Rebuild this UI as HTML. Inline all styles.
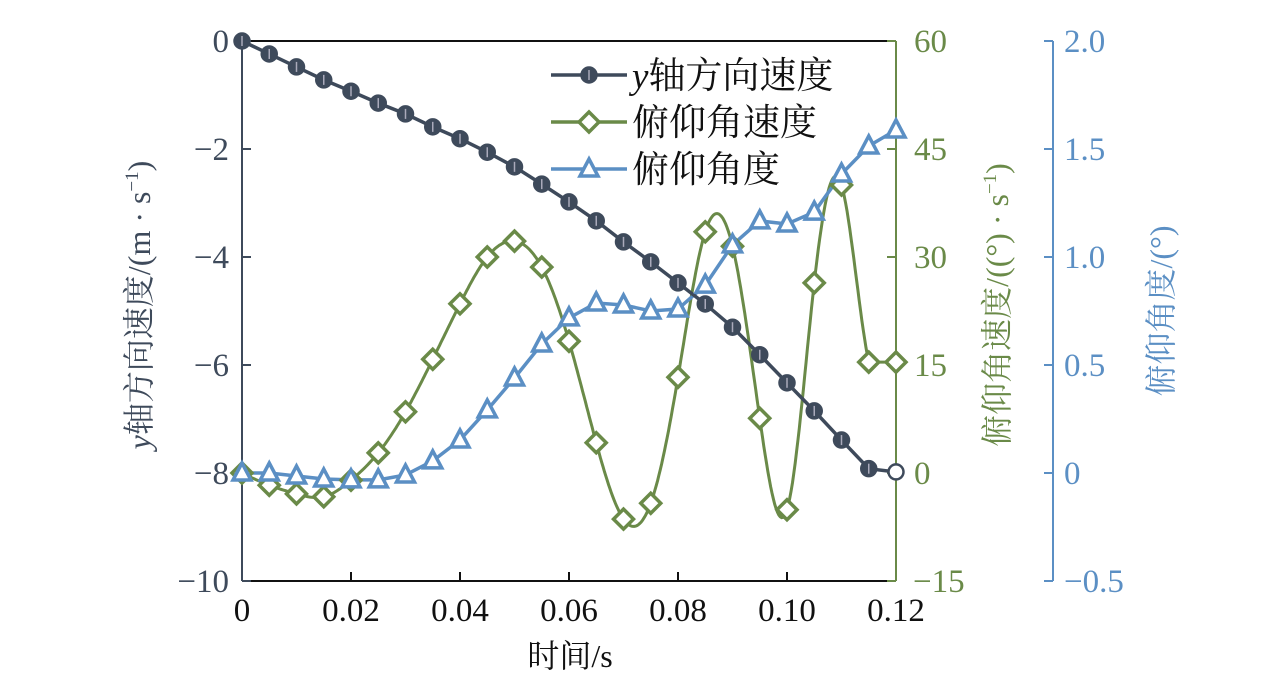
<!DOCTYPE html>
<html><head><meta charset="utf-8"><style>
body{margin:0;background:#fff;}
svg{display:block;font-family:"Liberation Serif","Noto Serif CJK SC","Noto Sans CJK SC",serif;}
</style></head><body>
<svg id="chart" width="1276" height="685" xmlns="http://www.w3.org/2000/svg"></svg>
<script>
const times=[0,0.005,0.01,0.015,0.02,0.025,0.03,0.035,0.04,0.045,0.05,0.055,0.06,0.065,0.07,0.075,0.08,0.085,0.09,0.095,0.1,0.105,0.11,0.115,0.12];
const ySpeed=[0,-0.24,-0.48,-0.72,-0.93,-1.15,-1.35,-1.59,-1.81,-2.06,-2.33,-2.65,-2.98,-3.33,-3.72,-4.09,-4.48,-4.87,-5.30,-5.81,-6.33,-6.85,-7.39,-7.92,-7.98];
const pitchRate=[0,-1.7,-2.9,-3.3,-1,2.8,8.5,15.8,23.5,30,32.2,28.6,18.3,4.2,-6.4,-4.2,13.3,33.5,31.5,7.6,-5.1,26.4,40,15.4,15.4];
const pitchAngle=[0,0,-0.014,-0.028,-0.032,-0.032,-0.009,0.056,0.153,0.292,0.44,0.597,0.718,0.787,0.778,0.75,0.759,0.87,1.056,1.167,1.153,1.208,1.384,1.514,1.588];
const xTicks=[0,0.02,0.04,0.06,0.08,0.10,0.12];
const xTickLabels=["0","0.02","0.04","0.06","0.08","0.10","0.12"];
const leftTicks=[0,-2,-4,-6,-8,-10];
const greenTicks=[60,45,30,15,0,-15];
const blueTicks=[2.0,1.5,1.0,0.5,0,-0.5];
const blueTickLabels=["2.0","1.5","1.0","0.5","0","−0.5"];

const L=242,R=896,T=41,B=581;
const C1="#3e4a5b",C2="#6a8a48",C3="#5b8fc4";
const sx=t=>L+(t/0.12)*(R-L);
const sy1=v=>T+(0-v)/10*(B-T);
const sy2=v=>T+(60-v)/75*(B-T);
const sy3=v=>T+(2-v)/2.5*(B-T);
const svg=document.getElementById('chart');
const NS="http://www.w3.org/2000/svg";
function mk(tag,attrs,parent){const e=document.createElementNS(NS,tag);for(const k in attrs)e.setAttribute(k,attrs[k]);(parent||svg).appendChild(e);return e;}
function txt(s,x,y,attrs){const e=mk('text',Object.assign({x:x,y:y},attrs));e.textContent=s;return e;}

let e;
e=mk('line',{x1:L,y1:T,x2:R,y2:T,stroke:"#111","stroke-width":2});


e=mk('line',{x1:L,y1:B,x2:R,y2:B,stroke:"#111","stroke-width":2});


e=mk('line',{x1:L,y1:T,x2:L,y2:B,stroke:C1,"stroke-width":2});


e=mk('line',{x1:R,y1:T,x2:R,y2:B,stroke:C2,"stroke-width":2});


const BX=1053;
e=mk('line',{x1:BX,y1:T,x2:BX,y2:B,stroke:C3,"stroke-width":2});



xTicks.forEach((t,i)=>{
  const x=sx(t);
  if(i>0&&i<xTicks.length-1){e=mk('line',{x1:x,y1:B,x2:x,y2:B-9,stroke:"#111","stroke-width":2});
  
  }
  e=txt(xTickLabels[i],x,621,{"font-size":33,"text-anchor":"middle",fill:"#111"});
  
  
});
leftTicks.forEach(v=>{
  const y=sy1(v);
  e=mk('line',{x1:L,y1:y,x2:L+9,y2:y,stroke:C1,"stroke-width":2});
  
  
  e=txt(v<0?"−"+(-v):String(v),229,y+11,{"font-size":33,"text-anchor":"end",fill:C1});
  
  
});
greenTicks.forEach(v=>{
  const y=sy2(v);
  e=mk('line',{x1:R,y1:y,x2:R-9,y2:y,stroke:C2,"stroke-width":2});
  
  
  e=txt(v<0?"−"+(-v):String(v),v<0?913:914,y+11,{"font-size":33,fill:C2});
  
  
});
blueTicks.forEach((v,i)=>{
  const y=sy3(v);
  e=mk('line',{x1:BX,y1:y,x2:BX-9,y2:y,stroke:C3,"stroke-width":2});
  
  
  e=txt(blueTickLabels[i],1064,y+11,{"font-size":33,fill:C3});
  
  
});

e=txt("时间/s",570,667,{"font-size":32,"text-anchor":"middle",fill:"#111"});


e=mk('text',{transform:"translate(150,305) rotate(-90)","font-size":32,"text-anchor":"middle",fill:C1});
e.innerHTML='<tspan font-style="italic">y</tspan>轴方向速度/(m · s<tspan dy="-12" font-size="19">−1</tspan><tspan dy="12">)</tspan>';


e=mk('text',{transform:"translate(1008,305) rotate(-90)","font-size":32,"text-anchor":"middle",fill:C2});
e.innerHTML='俯仰角速度/((°) · s<tspan dy="-12" font-size="19">−1</tspan><tspan dy="12">)</tspan>';


e=txt("俯仰角度/(°)",0,0,{transform:"translate(1172,311) rotate(-90)","font-size":32,"text-anchor":"middle",fill:C3});



function splinePath(xs,ys){
  const n=xs.length,h=[],a=[],l=[1],mu=[0],z=[0],c=new Array(n).fill(0),b=[],d=[];
  for(let i=0;i<n-1;i++)h.push(xs[i+1]-xs[i]);
  for(let i=1;i<n-1;i++)a[i]=3/h[i]*(ys[i+1]-ys[i])-3/h[i-1]*(ys[i]-ys[i-1]);
  for(let i=1;i<n-1;i++){l[i]=2*(xs[i+1]-xs[i-1])-h[i-1]*mu[i-1];mu[i]=h[i]/l[i];z[i]=(a[i]-h[i-1]*z[i-1])/l[i];}
  for(let j=n-2;j>=0;j--){c[j]=(j>0?z[j]:0)-mu[j]*c[j+1];b[j]=(ys[j+1]-ys[j])/h[j]-h[j]*(c[j+1]+2*c[j])/3;d[j]=(c[j+1]-c[j])/(3*h[j]);}
  let p="";
  for(let i=0;i<n-1;i++){
    if(i===n-2&&Math.abs(ys[i+1]-ys[i])<1){p+="L"+sx(xs[i+1]).toFixed(1)+","+ys[i+1].toFixed(1);continue;}
    for(let k=0;k<=20;k++){const dx=h[i]*k/20;const y=ys[i]+b[i]*dx+c[i]*dx*dx+d[i]*dx*dx*dx;p+=(p?"L":"M")+sx(xs[i]+dx).toFixed(1)+","+y.toFixed(1);}}
  return p;
}
e=mk('path',{d:splinePath(times,pitchRate.map(sy2)),fill:"none",stroke:C2,"stroke-width":3});


e=mk('path',{d:times.map((t,i)=>(i?"L":"M")+sx(t)+","+sy3(pitchAngle[i])).join(""),fill:"none",stroke:C3,"stroke-width":3.5});


e=mk('path',{d:times.map((t,i)=>(i?"L":"M")+sx(t)+","+sy1(ySpeed[i])).join(""),fill:"none",stroke:C1,"stroke-width":3.5});



function diamond(x,y,g){return mk('path',{d:`M${x},${y-10}L${x+10},${y}L${x},${y+10}L${x-10},${y}Z`,fill:"#fff",stroke:C2,"stroke-width":3.5},g);}
function tri(x,y,g){return mk('path',{d:`M${x},${y-10}L${x+9},${y+7}L${x-9},${y+7}Z`,fill:"#fff",stroke:C3,"stroke-width":3.5},g);}
function circ(x,y,g,open){const c=mk('circle',{cx:x,cy:y,r:7.5,fill:open?"#fff":C1,stroke:C1,"stroke-width":2.5},g);if(!open)mk('line',{x1:x,y1:y-5,x2:x,y2:y+5,stroke:"#aab","stroke-width":1.5},g);return c;}

times.forEach((t,i)=>{
  e=diamond(sx(t),sy2(pitchRate[i]));
  
  
});
times.forEach((t,i)=>{
  e=tri(sx(t),sy3(pitchAngle[i]));
  
  
});
times.forEach((t,i)=>{
  e=circ(sx(t),sy1(ySpeed[i]),null,i===times.length-1);
  
  
});

const lg=mk('g',{});


const rows=[[C1,'<tspan font-style="italic">y</tspan>轴方向速度',circ],[C2,'俯仰角速度',diamond],[C3,'俯仰角度',tri]];
rows.forEach((r,i)=>{
  const y=75+i*47;
  const g=mk('g',{},lg);
  
  
  mk('line',{x1:551,y1:y,x2:627,y2:y,stroke:r[0],"stroke-width":3.5},g);
  r[2](589,y,g,false);
  const t=mk('text',{x:632,y:y+13,"font-size":37,fill:"#111"},g);
  t.innerHTML=r[1];
});
</script>
</body></html>
